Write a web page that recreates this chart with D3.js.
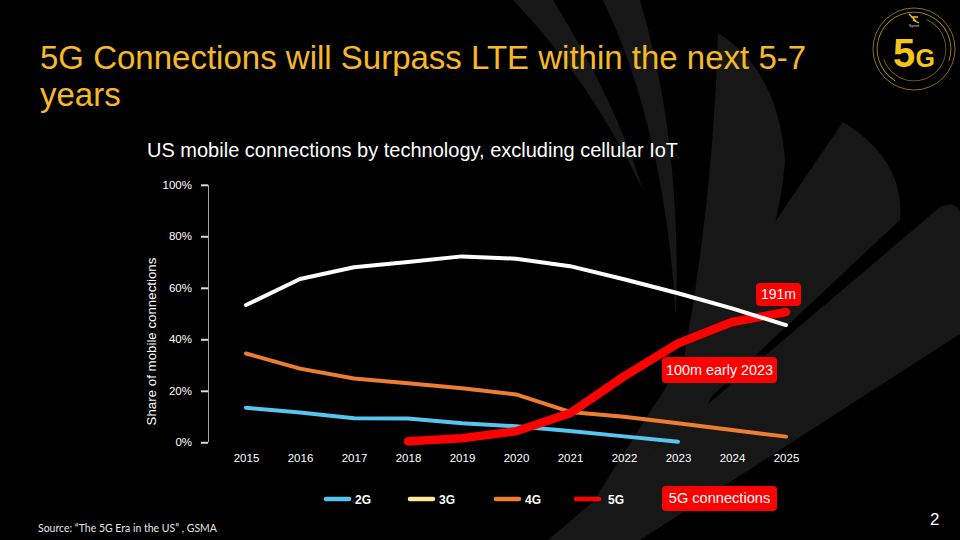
<!DOCTYPE html>
<html>
<head>
<meta charset="utf-8">
<script src="https://cdn.jsdelivr.net/npm/d3@7"></script>
<style>
  html, body { margin: 0; padding: 0; background: #000; }
  svg { display: block; }
</style>
</head>
<body>
<svg id="chart" width="960" height="540"></svg>
<script>
// ---------- data ----------
const years = [2015, 2016, 2017, 2018, 2019, 2020, 2021, 2022, 2023, 2024, 2025];
const share2G = [13.4, 11.6, 9.3, 9.2, 7.4, 6.2, 4.4, 2.3, 0.2, null, null];
const share3G = [34.5, 28.6, 24.8, 22.9, 21.0, 18.6, 11.8, 9.9, 7.4, 4.8, 2.2];
const share4G = [53.3, 63.4, 68.0, 70.0, 72.2, 71.3, 68.4, 63.3, 57.9, 52.0, 45.5];
const share5G = [null, null, null, 0.4, 1.6, 4.3, 11.3, 25.6, 38.4, 46.7, 50.6];
const yTicks = [0, 20, 40, 60, 80, 100];
const legendNames = ["2G", "3G", "4G", "5G"];
const legendColors = ["#56c5f0", "#ffe699", "#ed7d31", "#ff0000"];
const calloutTexts = ["191m", "100m early 2023", "5G connections"];

const titleLines = ["5G Connections will Surpass LTE within the next 5-7", "years"];
const subtitle = "US mobile connections by technology, excluding cellular IoT";
const yTitle = "Share of mobile connections";
const sourceText = "Source: \u201cThe 5G Era in the US\u201d , GSMA";

// ---------- setup ----------
const svg = d3.select("#chart");
const font = "'Liberation Sans', Arial, sans-serif";

svg.append("rect").attr("width", 960).attr("height", 540).attr("fill", "#000");

// background wing shapes (decorative)
const bg = svg.append("g").attr("fill", "#171717");
const wingPaths = [
  "M513,0 L553,0 Q615,100 643,190 Q590,80 513,0 Z",
  "M603,0 L640,0 Q682,140 676,318 Q665,130 603,0 Z",
  "M718,33 Q778,70 785,160 Q778,260 705,410 L662,462 Q712,250 718,33 Z",
  "M843,122 Q905,160 900,220 L585,515 Q700,330 843,122 Z",
  "M940,207 Q955,200 960,212 L960,334 L640,540 L548,540 Z"
];
bg.selectAll("path").data(wingPaths).join("path").attr("d", d => d);

// ---------- title ----------
svg.append("text")
  .attr("font-family", font).attr("font-size", 33).attr("fill", "#f6b923")
  .selectAll("tspan").data(titleLines).join("tspan")
  .attr("x", 40).attr("y", (d, i) => 69 + i * 37).text(d => d);

svg.append("text")
  .attr("x", 147).attr("y", 157)
  .attr("font-family", font).attr("font-size", 20).attr("fill", "#fff")
  .text(subtitle);

// ---------- scales ----------
const x = d3.scalePoint().domain(years).range([246, 786]);
const y = d3.scaleLinear().domain([0, 100]).range([442.3, 184.8]);

// y axis
const yAxis = svg.append("g").attr("transform", "translate(208,0)")
  .call(d3.axisLeft(y).tickValues(yTicks).tickFormat(d => d + "%").tickSize(7).tickPadding(9));
yAxis.select(".domain").attr("stroke", "#a6a6a6").attr("stroke-width", 1)
  .attr("d", `M0.5,${y(100)}V${y(0)}`);
yAxis.selectAll(".tick line").attr("stroke", "#d9d9d9").attr("stroke-width", 2);
yAxis.selectAll(".tick text").attr("fill", "#fff").attr("font-size", 11.5).attr("font-family", font);

// x axis labels
const xAxis = svg.append("g").attr("transform", "translate(0,449)")
  .call(d3.axisBottom(x).tickSize(0).tickPadding(5));
xAxis.select(".domain").remove();
xAxis.selectAll(".tick text").attr("fill", "#fff").attr("font-size", 11.5).attr("font-family", font);

// y title
svg.append("text")
  .attr("transform", "translate(156,341.5) rotate(-90)")
  .attr("text-anchor", "middle")
  .attr("font-family", font).attr("font-size", 13.3).attr("fill", "#fff")
  .text(yTitle);

// ---------- lines ----------
const line = d3.line()
  .defined(d => d.v != null)
  .x(d => x(d.year)).y(d => y(d.v));
const toPts = arr => years.map((yr, i) => ({ year: yr, v: arr[i] }));

const series = [
  { values: share2G, color: "#56c5f0", width: 4 },
  { values: share3G, color: "#ed7d31", width: 4 },
  { values: share5G, color: "#ff0000", width: 8.5 },
  { values: share4G, color: "#ffffff", width: 4 }
];
svg.append("g").selectAll("path").data(series).join("path")
  .attr("d", d => line(toPts(d.values)))
  .attr("fill", "none")
  .attr("stroke", d => d.color)
  .attr("stroke-width", d => d.width)
  .attr("stroke-linecap", "round")
  .attr("stroke-linejoin", "round");

// ---------- callouts ----------
const callouts = [
  { text: calloutTexts[0], x: 756, y: 283, w: 45, h: 23, size: 14 },
  { text: calloutTexts[1], x: 662, y: 357, w: 115, h: 26, size: 14.4 },
  { text: calloutTexts[2], x: 662, y: 486, w: 115, h: 25, size: 14.6 }
];
const cg = svg.append("g").selectAll("g").data(callouts).join("g");
cg.append("rect")
  .attr("x", d => d.x).attr("y", d => d.y).attr("width", d => d.w).attr("height", d => d.h)
  .attr("rx", 4).attr("fill", "#ff0000");
cg.append("text")
  .attr("x", d => d.x + d.w / 2).attr("y", d => d.y + d.h / 2 + 1)
  .attr("text-anchor", "middle").attr("dominant-baseline", "middle")
  .attr("font-family", font).attr("font-size", d => d.size).attr("fill", "#fff")
  .text(d => d.text);

// ---------- legend ----------
const legendX = [326, 410, 496, 576];
const lg = svg.append("g").selectAll("g").data(legendNames).join("g")
  .attr("transform", (d, i) => `translate(${legendX[i]},499)`);
lg.append("line").attr("x1", 0).attr("x2", 23).attr("y1", 0).attr("y2", 0)
  .attr("stroke", (d, i) => legendColors[i]).attr("stroke-width", 4.5).attr("stroke-linecap", "round");
lg.append("text").attr("x", (d, i) => i === 3 ? 32 : 29).attr("y", 4.5)
  .attr("font-family", font).attr("font-size", 12).attr("font-weight", "bold").attr("fill", "#fff")
  .text(d => d);

// ---------- footer ----------
svg.append("text").attr("x", 38).attr("y", 532)
  .attr("font-family", "Lato, 'Open Sans', sans-serif").attr("font-size", 10.5).attr("fill", "#e6e6e6")
  .text(sourceText);
svg.append("text").attr("x", 930).attr("y", 525)
  .attr("font-family", font).attr("font-size", 17).attr("fill", "#fff").text("2");

// ---------- logo ----------
const logo = svg.append("g").attr("transform", "translate(914,49)");
logo.append("circle").attr("r", 41).attr("fill", "#000").attr("stroke", "#8a6d1c").attr("stroke-width", 1);
logo.append("path").attr("d", d3.arc()({ innerRadius: 36.5, outerRadius: 37.3, startAngle: -2.6, endAngle: 1.9 }))
  .attr("fill", "#b8921f");
logo.append("path").attr("d", d3.arc()({ innerRadius: 31.5, outerRadius: 32.2, startAngle: 0.4, endAngle: 4.4 }))
  .attr("fill", "#8a6d1c");
logo.append("path").attr("d", "M-5,-35 L2,-28 M-3,-32 L4,-32 M-1,-29 L5,-26")
  .attr("stroke", "#f5c518").attr("stroke-width", 1.3).attr("fill", "none");
logo.append("text").attr("x", 0).attr("y", -22).attr("text-anchor", "middle")
  .attr("font-family", font).attr("font-size", 4).attr("fill", "#ddd").text("Sprint");
logo.append("text").attr("x", -21).attr("y", 18)
  .attr("font-family", font).attr("font-weight", "bold").attr("fill", "#f5c518")
  .attr("font-size", 40).text("5");
logo.append("text").attr("x", 1.5).attr("y", 18)
  .attr("font-family", font).attr("font-weight", "bold").attr("fill", "#f5c518")
  .attr("font-size", 25).text("G");
</script>
</body>
</html>
